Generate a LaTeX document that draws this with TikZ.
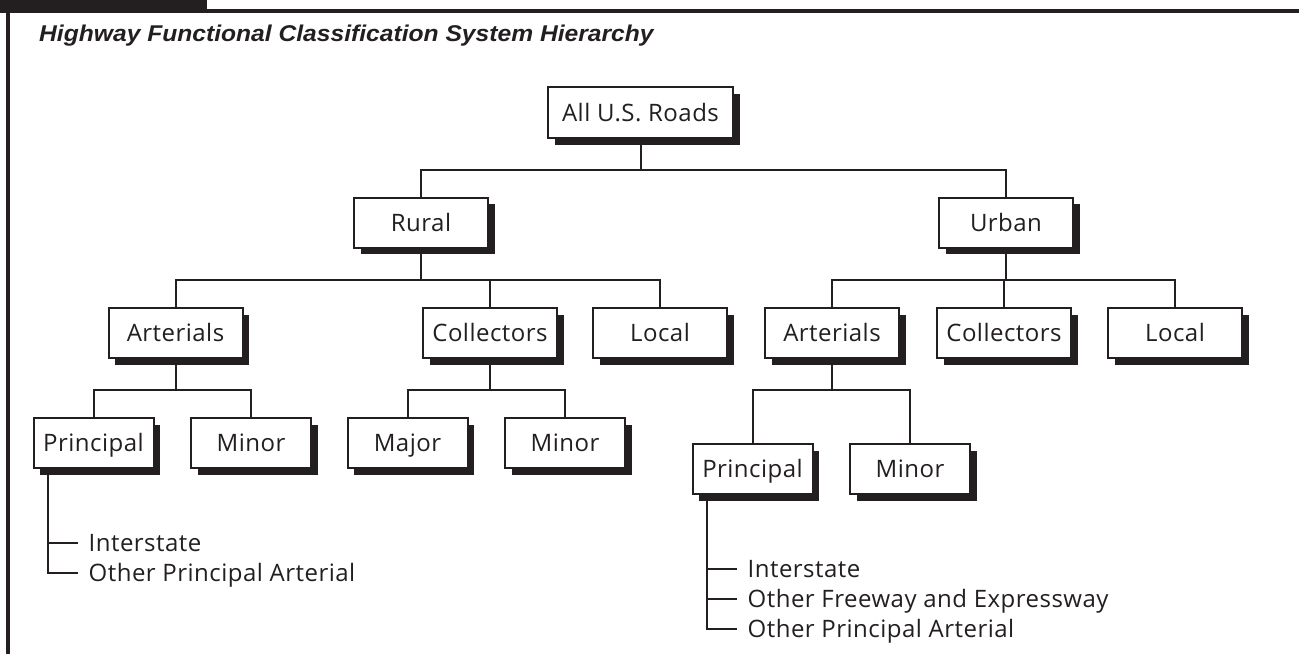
\documentclass[tikz,border=0pt]{standalone}
\usepackage{fontspec}
\setmainfont{Open Sans}[LetterSpace=2]
\newfontfamily\titlefont[FakeStretch=1.08]{Liberation Sans}
\usetikzlibrary{trees,shadows}

\definecolor{ink}{HTML}{231F20}

\tikzset{
  box/.style={draw=ink, line width=2pt, fill=white, text=ink, inner sep=0pt,
    minimum width=134pt, minimum height=50pt, text height=17pt, text depth=0pt,
    font=\fontsize{24}{28}\selectfont,
    drop shadow={shadow xshift=6.5pt, shadow yshift=-6.5pt, fill=ink, opacity=1}},
  leaf/.style={box, minimum width=120pt},
  link/.style={draw=ink, line width=2pt},
}

\begin{document}
\begin{tikzpicture}[x=1pt, y=-1pt,
  grow via three points={one child at (30,74) and two children at (30,74) and (30,104)},
  edge from parent path={(\tikzparentnode) |- (\tikzchildnode.west)},
  edge from parent/.style={link},
  every child node/.style={anchor=west, inner xsep=11pt, inner ysep=0pt, text height=17pt, text depth=0pt, text=ink, font=\fontsize{24}{28}\selectfont}]
\useasboundingbox (0,0) rectangle (1299,654);

% frame
\fill[ink] (0,0) rectangle (207,13);
\fill[ink] (0,9) rectangle (1299,13);
\fill[ink] (6,9) rectangle (9.5,654);
\node[anchor=base west, inner sep=0pt, text=ink, font=\titlefont\bfseries\itshape\fontsize{22.8}{26}\selectfont] (title) at (39,41.5) {Highway Functional Classification System Hierarchy};

% boxes
\node[box, minimum width=185pt, minimum height=51pt] (roads) at (640.5,112.5) {All U.S. Roads};
\node[box] (rural) at (421,222.5) {Rural};
\node[box] (urban) at (1006,222.5) {Urban};

\node[box] (rart) at (175.5,333) {Arterials};
\node[box] (rcol) at (490,333) {Collectors};
\node[box] (rloc) at (660,333) {Local};
\node[box] (uart) at (832,333) {Arterials};
\node[box] (ucol) at (1004,333) {Collectors};
\node[box] (uloc) at (1175,333) {Local};

\node[leaf] (rpri) at (93.5,443) {Principal};
\node[leaf] (rmin) at (251,443) {Minor};
\node[leaf] (rmaj) at (407.5,443) {Major};
\node[leaf] (rcmin) at (565,443) {Minor};
\node[leaf] (upri) at (752.5,469) {Principal};
\node[leaf] (umin) at (910,469) {Minor};

% connectors
\coordinate (bar1) at (0,170);
\coordinate (bar2) at (0,280);
\coordinate (bar3) at (0,390);

\draw[link] (roads.south) -- (roads.south |- bar1);
\draw[link] (rural.north) |- (roads.south |- bar1) -| (urban.north);

\draw[link] (rural.south) -- (rural.south |- bar2);
\draw[link] (rart.north) |- (rural.south |- bar2) -| (rloc.north);
\draw[link] (rcol.north) -- (rcol.north |- bar2);
\draw[link] (urban.south) -- (urban.south |- bar2);
\draw[link] (uart.north) |- (urban.south |- bar2) -| (uloc.north);
\draw[link] (ucol.north) -- (ucol.north |- bar2);

\draw[link] (rart.south) -- (rart.south |- bar3);
\draw[link] (rpri.north) |- (rart.south |- bar3) -| (rmin.north);
\draw[link] (rcol.south) -- (rcol.south |- bar3);
\draw[link] (rmaj.north) |- (rcol.south |- bar3) -| (rcmin.north);
\draw[link] (uart.south) -- (uart.south |- bar3);
\draw[link] (upri.north) |- (uart.south |- bar3) -| (umin.north);

% principal arterial lists
\node[coordinate] (rstem) at ([xshift=15pt]rpri.south west) {}
  child {node (rinter) {Interstate}}
  child {node (rother) {Other Principal Arterial}};
\node[coordinate] (ustem) at ([xshift=15pt]upri.south west) {}
  child {node (uinter) {Interstate}}
  child {node (ufree) {Other Freeway and Expressway}}
  child {node (uother) {Other Principal Arterial}};
\end{tikzpicture}
\end{document}
